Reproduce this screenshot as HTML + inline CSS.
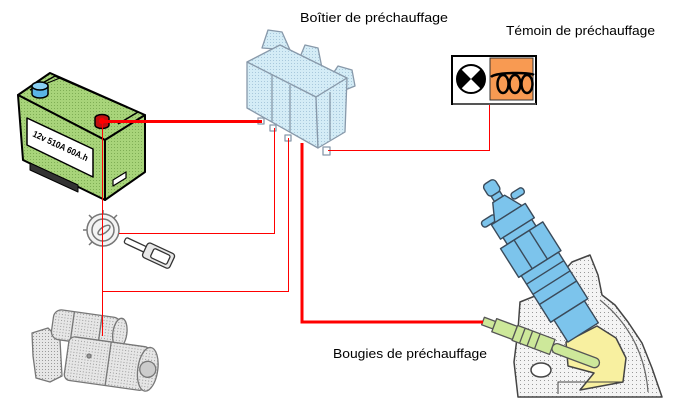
<!DOCTYPE html>
<html><head><meta charset="utf-8"><style>
html,body{margin:0;padding:0;background:#fff;}
svg{display:block;}
</style></head><body>
<svg width="676" height="407" viewBox="0 0 676 407" xmlns="http://www.w3.org/2000/svg">
<defs>
<pattern id="dg" width="3" height="3" patternUnits="userSpaceOnUse"><rect width="3" height="3" fill="#a8d47a"/><rect width="1" height="1" fill="#7fae55"/></pattern>
<pattern id="db" width="3" height="3" patternUnits="userSpaceOnUse"><rect width="3" height="3" fill="#d4ecf6"/><rect width="1" height="1" fill="#a8c8dc"/></pattern>
<pattern id="dgr" width="3" height="3" patternUnits="userSpaceOnUse"><rect width="3" height="3" fill="#e6e6e6"/><rect width="1" height="1" fill="#9a9a9a"/></pattern>
<pattern id="dw" width="4" height="4" patternUnits="userSpaceOnUse"><rect width="4" height="4" fill="#f4f4f4"/><rect width="1" height="1" fill="#999"/></pattern>
</defs>

<!-- Labels -->
<g font-family="Liberation Sans, sans-serif" font-size="12.5" fill="#000">
<text x="300" y="22" textLength="148" lengthAdjust="spacingAndGlyphs">Boîtier de préchauffage</text>
<text x="506" y="35" textLength="149" lengthAdjust="spacingAndGlyphs">Témoin de préchauffage</text>
<text x="333" y="358" textLength="154" lengthAdjust="spacingAndGlyphs">Bougies de préchauffage</text>
</g>

<!-- Battery -->
<g stroke="#000" stroke-width="2" stroke-linejoin="round">
<polygon points="18,95 50,73 145,115 105,140" fill="url(#dg)"/>
<polygon points="18,95 105,140 105,200 23,160" fill="url(#dg)"/>
<polygon points="105,140 145,115 145,172 105,200" fill="url(#dg)"/>
<polyline points="30,90 55,76 138,112 118,124" fill="none" stroke-width="1.5"/>
<polyline points="40,86 60,78 128,108" fill="none" stroke-width="1.2"/>
<polygon points="27,118 93,149 93,177 27,145" fill="#fff" stroke-width="1.5"/>
<polygon points="30,163 78,185 78,192 30,170" fill="#333" stroke-width="1"/>
<polygon points="113,180 126,172 126,178 113,186" fill="#fff" stroke-width="1.2"/>
</g>
<text x="0" y="0" font-family="Liberation Sans, sans-serif" font-weight="bold" font-size="9" transform="translate(32,136) rotate(25)" textLength="60" lengthAdjust="spacingAndGlyphs">12v 510A 60A.h</text>
<g stroke="#000" stroke-width="1.5">
<path d="M32,94 V86 A8,4 0 0 1 48,86 V94 A8,4 0 0 1 32,94 Z" fill="#5ab4e6"/>
<ellipse cx="40" cy="86" rx="8" ry="4" fill="#8ad0f4"/>
<path d="M95,125 V118 A7,3.5 0 0 1 109,118 V125 A7,3.5 0 0 1 95,125 Z" fill="#c01010"/>
</g>

<!-- Relay box -->
<g stroke="#8899aa" stroke-width="1.3" stroke-linejoin="round">
<polygon points="262,48 268,30 282,32 290,50" fill="url(#db)"/>
<polygon points="298,62 305,45 318,48 322,68" fill="url(#db)"/>
<polygon points="330,78 338,66 352,70 355,86 345,90" fill="url(#db)"/>
<polygon points="247,62 280,45 347,78 316,97" fill="url(#db)"/>
<polygon points="247,62 316,97 318,148 247,108" fill="url(#db)"/>
<polygon points="316,97 347,78 345,132 318,148" fill="url(#db)"/>
<line x1="272" y1="75" x2="272" y2="122"/>
<line x1="290" y1="85" x2="290" y2="132"/>
<line x1="330" y1="92" x2="330" y2="140"/>
<rect x="258" y="118" width="6" height="6" fill="#fff"/>
<rect x="270" y="125" width="6" height="6" fill="#fff"/>
<rect x="285" y="135" width="6" height="6" fill="#fff"/>
<rect x="323" y="147" width="7" height="8" fill="#fff"/>
</g>

<!-- Warning lamp -->
<rect x="452" y="56" width="84" height="48" fill="#fff" stroke="#000" stroke-width="2"/>
<line x1="453" y1="104" x2="536" y2="104" stroke="#555" stroke-width="2"/>
<rect x="490" y="58" width="43" height="42" fill="#f89a52" stroke="#333" stroke-width="1"/>
<circle cx="471" cy="79" r="14" fill="#fff" stroke="#000" stroke-width="2"/>
<path d="M471,79 L461,69 A14,14 0 0 0 461,89 Z" fill="#000"/>
<path d="M471,79 L481,69 A14,14 0 0 1 481,89 Z" fill="#000"/>
<g fill="none" stroke="#000" stroke-width="2.5">
<path d="M491,77 C496,72 530,72 534,75"/>
<ellipse cx="503" cy="84" rx="5.5" ry="9"/>
<ellipse cx="515" cy="84" rx="5.5" ry="9"/>
<ellipse cx="527" cy="84" rx="5.5" ry="9"/>
</g>

<!-- Ignition switch -->
<g stroke="#777" fill="none" stroke-width="1.5">
<circle cx="103" cy="230" r="16" fill="#f4f4f4"/>
<circle cx="103" cy="230" r="11"/>
<ellipse cx="104" cy="230" rx="7" ry="3" transform="rotate(-35 104 230)"/>
<line x1="87" y1="230" x2="83" y2="230"/>
<line x1="103" y1="214" x2="103" y2="210"/>
<line x1="92" y1="218" x2="89" y2="215"/>
<line x1="114" y1="218" x2="117" y2="215"/>
<line x1="92" y1="242" x2="89" y2="245"/>
</g>
<!-- key -->
<g transform="translate(125,240) rotate(25)" stroke="#333" stroke-width="1.3" fill="#fff">
<rect x="0" y="-3" width="26" height="6" rx="2"/>
<rect x="22" y="-8" width="30" height="16" rx="3" fill="#e8e8e8"/>
<rect x="30" y="-5" width="18" height="10" rx="2"/>
</g>

<!-- Starter motor -->
<g stroke="#777" stroke-width="1.3" stroke-linejoin="round">
<polygon points="32,333 48,328 60,340 62,376 50,382 36,378 33,356" fill="url(#dgr)"/>
<g transform="rotate(8 90 330)">
<rect x="52" y="314" width="68" height="30" rx="8" fill="url(#dgr)"/>
<ellipse cx="120" cy="329" rx="7" ry="15" fill="url(#dgr)"/>
<line x1="72" y1="314" x2="72" y2="344"/>
<line x1="100" y1="314" x2="100" y2="344"/>
</g>
<g transform="rotate(8 110 365)">
<rect x="66" y="342" width="82" height="44" rx="6" fill="url(#dgr)"/>
<ellipse cx="148" cy="364" rx="10" ry="22" fill="url(#dgr)"/>
<circle cx="148" cy="364" r="8" fill="#ccc"/>
<line x1="108" y1="342" x2="108" y2="386"/>
</g>
<circle cx="89" cy="356" r="2" fill="#999"/>
</g>

<!-- Engine head -->
<g stroke="#444" stroke-width="1.5" stroke-linejoin="round">
<polygon points="520,302 545,292 572,262 590,255 598,275 602,295 615,305 628,322 642,343 652,368 662,397 518,397 514,362 518,330" fill="url(#dw)"/>
<path d="M600,300 C625,320 645,350 648,392" fill="none" stroke="#666" stroke-width="1.2"/>
<ellipse cx="541" cy="370" rx="10" ry="7" fill="#fff"/>
<polygon points="566,342 597,326 616,338 626,358 623,382 580,390 594,373 568,366" fill="#f8f0a0"/>
<path d="M558,394 L558,382 L622,382" fill="none" stroke-width="1"/>
</g>

<!-- Injector -->
<g transform="translate(488,182) rotate(57.7)" stroke="#3a4a5a" stroke-width="1.4" fill="#7cc4ec" stroke-linejoin="round">
<rect x="22" y="-26" width="7" height="14" rx="3"/>
<rect x="30" y="12" width="7" height="16" rx="3"/>
<rect x="0" y="-7" width="14" height="14" rx="4"/>
<rect x="14" y="-5" width="6" height="10"/>
<polygon points="20,-7 38,-16 38,16 20,7"/>
<rect x="38" y="-20" width="17" height="40"/>
<rect x="55" y="-17" width="8" height="34"/>
<rect x="63" y="-25" width="34" height="50"/>
<line x1="63" y1="-9" x2="97" y2="-9"/>
<line x1="63" y1="9" x2="97" y2="9"/>
<rect x="97" y="-22" width="55" height="44"/>
<line x1="107" y1="-22" x2="107" y2="22"/>
<line x1="119" y1="-22" x2="119" y2="22"/>
<line x1="131" y1="-22" x2="131" y2="22"/>
<rect x="152" y="-18" width="26" height="36"/>
</g>

<!-- Glow plug -->
<g transform="translate(483,321) rotate(20.5)" stroke="#555" stroke-width="1.3" fill="#cde89a" stroke-linejoin="round">
<rect x="74" y="-5" width="50" height="10" rx="5"/>
<rect x="0" y="-4" width="12" height="8"/>
<rect x="12" y="-7" width="22" height="14"/>
<rect x="34" y="-8" width="40" height="16"/>
<line x1="42" y1="-8" x2="42" y2="8"/>
<line x1="50" y1="-8" x2="50" y2="8"/>
<line x1="58" y1="-8" x2="58" y2="8"/>
</g>

<!-- Wires -->
<g stroke="#ff0000" fill="none">
<path d="M101,121.5 H262" stroke-width="3"/>
<path d="M102.5,121 V336" stroke-width="1"/>
<path d="M119,233.5 H274.5 V128" stroke-width="1"/>
<path d="M102,291.5 H288.5 V138" stroke-width="1"/>
<path d="M302,143 V322 H483" stroke-width="3"/>
<path d="M328,150.5 H489.5 V105" stroke-width="1"/>
</g>
<circle cx="102" cy="121" r="3" fill="#ff0000"/>
</svg>
</body></html>
